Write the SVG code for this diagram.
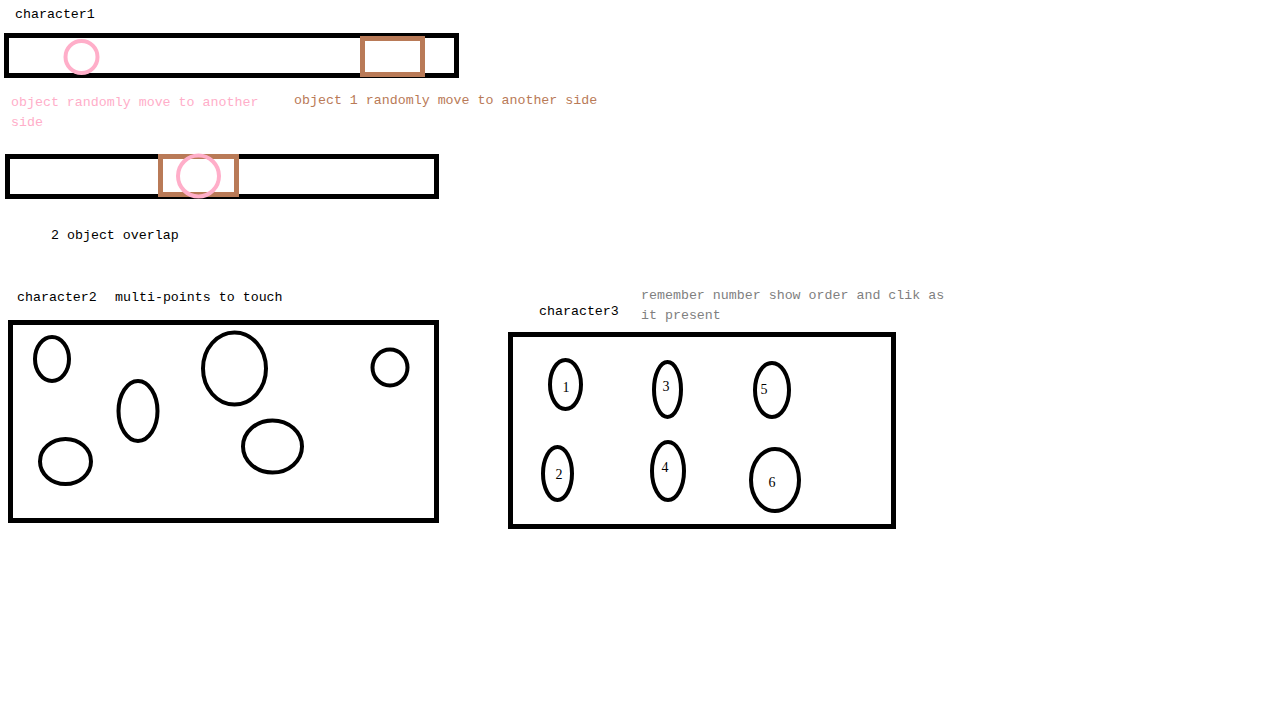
<svg xmlns="http://www.w3.org/2000/svg" width="1279" height="724" viewBox="0 0 1279 724">
<style>
text{font-family:"Liberation Mono","DejaVu Sans Mono",monospace;font-size:13.3px;fill:#000}
.pink{fill:#ffaec9}
.brown{fill:#b97a57}
.gray{fill:#7f7f7f}
.box{fill:none;stroke:#000;stroke-width:5}
.ov{fill:none;stroke:#000;stroke-width:4}
.br{fill:none;stroke:#b97a57;stroke-width:5}
.pk{fill:none;stroke:#ffaec9;stroke-width:4}
.num{font-family:"Liberation Serif",serif;font-size:14px;fill:#000}
</style>
<rect width="1279" height="724" fill="#fff"/>
<g id="character1">
<text x="15" y="18">character1</text>
<rect class="box" x="6.5" y="35.5" width="450" height="40"/>
<rect class="br" x="362.5" y="38.5" width="60" height="36"/>
<circle class="pk" cx="81.5" cy="57" r="16"/>
<text class="pink" x="11" y="106">object randomly move to another</text>
<text class="pink" x="11" y="126">side</text>
<text class="brown" x="294" y="104">object 1 randomly move to another side</text>
</g>
<g id="overlap">
<rect class="box" x="7.5" y="156.5" width="429" height="40"/>
<rect class="br" x="160.5" y="156.5" width="76" height="38"/>
<circle class="pk" cx="198.5" cy="176" r="20.5"/>
<text x="51" y="239">2 object overlap</text>
</g>
<g id="character2">
<text x="17" y="301">character2</text>
<text x="115" y="301">multi-points to touch</text>
<rect class="box" x="10.5" y="322.5" width="426" height="198"/>
<ellipse class="ov" cx="52" cy="359" rx="17" ry="22"/>
<ellipse class="ov" cx="138" cy="411" rx="19.5" ry="30"/>
<ellipse class="ov" cx="234.5" cy="368.5" rx="31.5" ry="36"/>
<ellipse class="ov" cx="390" cy="367.5" rx="17.5" ry="18"/>
<ellipse class="ov" cx="65.5" cy="461.5" rx="25.5" ry="22.5"/>
<ellipse class="ov" cx="272.5" cy="446.5" rx="29.5" ry="26"/>
</g>
<g id="character3">
<text x="539" y="315">character3</text>
<text class="gray" x="641" y="299">remember number show order and clik as</text>
<text class="gray" x="641" y="319">it present</text>
<rect class="box" x="510.5" y="334.5" width="383" height="192"/>
<ellipse class="ov" cx="565.5" cy="384.5" rx="15.5" ry="24.5"/>
<ellipse class="ov" cx="667.5" cy="389.5" rx="13.5" ry="27.5"/>
<ellipse class="ov" cx="772" cy="390" rx="17" ry="27"/>
<ellipse class="ov" cx="557.5" cy="473.5" rx="14.5" ry="26.5"/>
<ellipse class="ov" cx="668" cy="471" rx="16" ry="29"/>
<ellipse class="ov" cx="775" cy="480" rx="24" ry="31"/>
<text class="num" x="566" y="392" text-anchor="middle">1</text>
<text class="num" x="666" y="391" text-anchor="middle">3</text>
<text class="num" x="764" y="394" text-anchor="middle">5</text>
<text class="num" x="559" y="479" text-anchor="middle">2</text>
<text class="num" x="665" y="472" text-anchor="middle">4</text>
<text class="num" x="772" y="487" text-anchor="middle">6</text>
</g>
</svg>
